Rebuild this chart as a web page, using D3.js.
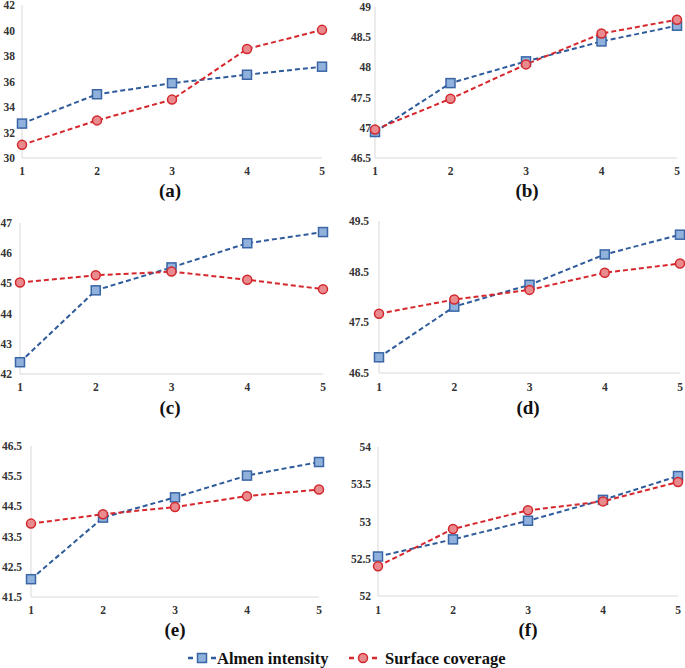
<!DOCTYPE html>
<html>
<head>
<meta charset="utf-8">
<script src="https://cdn.jsdelivr.net/npm/d3@7/dist/d3.min.js"></script>
<style>
  html, body { margin: 0; padding: 0; background: #fff; }
  svg { display: block; }
</style>
</head>
<body>
<svg id="chart" width="685" height="668"></svg>
<script>
// ---- data ----
const xCategories = [1, 2, 3, 4, 5];
const panelLabels = ["(a)", "(b)", "(c)", "(d)", "(e)", "(f)"];
const seriesNames = ["Almen intensity", "Surface coverage"];

const almenA = [32.7, 35.0, 35.87, 36.53, 37.16];
const coverA = [31.03, 32.95, 34.58, 38.55, 40.05];
const ticksA = [30, 32, 34, 36, 38, 40, 42];

const almenB = [46.93, 47.74, 48.1, 48.43, 48.69];
const coverB = [46.97, 47.48, 48.05, 48.56, 48.79];
const ticksB = [46.5, 47, 47.5, 48, 48.5, 49];

const almenC = [42.39, 44.77, 45.53, 46.33, 46.7];
const coverC = [45.03, 45.27, 45.39, 45.12, 44.81];
const ticksC = [42, 43, 44, 45, 46, 47];

const almenD = [46.81, 47.81, 48.24, 48.84, 49.23];
const coverD = [47.67, 47.95, 48.14, 48.48, 48.66];
const ticksD = [46.5, 47.5, 48.5, 49.5];

const almenE = [42.09, 44.13, 44.8, 45.52, 45.97];
const coverE = [43.93, 44.24, 44.48, 44.84, 45.06];
const ticksE = [41.5, 42.5, 43.5, 44.5, 45.5, 46.5];

const almenF = [52.53, 52.76, 53.01, 53.29, 53.61];
const coverF = [52.4, 52.9, 53.15, 53.27, 53.53];
const ticksF = [52, 52.5, 53, 53.5, 54];

// ---- layout (positions only) ----
const panels = [
  { almen: almenA, cover: coverA, ticks: ticksA, x0: 22,  x1: 322, yT: 5,   yB: 158, gap: 7,  xlab: 171, lx: 170, ly: 197 },
  { almen: almenB, cover: coverB, ticks: ticksB, x0: 375, x1: 677, yT: 7,   yB: 158, gap: 4,  xlab: 171, lx: 527, ly: 197 },
  { almen: almenC, cover: coverC, ticks: ticksC, x0: 20,  x1: 323, yT: 223, yB: 374, gap: 8,  xlab: 387, lx: 170, ly: 414 },
  { almen: almenD, cover: coverD, ticks: ticksD, x0: 379, x1: 680, yT: 221, yB: 373, gap: 10, xlab: 387, lx: 528, ly: 414 },
  { almen: almenE, cover: coverE, ticks: ticksE, x0: 31,  x1: 319, yT: 446, yB: 597, gap: 9,  xlab: 610, lx: 175, ly: 636 },
  { almen: almenF, cover: coverF, ticks: ticksF, x0: 378, x1: 678, yT: 447, yB: 596, gap: 7,  xlab: 610, lx: 528, ly: 636 }
];

const blueLine = "#2f5b9b", blueFill = "#8fb1dc", blueStroke = "#3a66a6";
const redLine = "#d6272d", redFill = "#e98a8f", redStroke = "#d2282d";
const serif = "Liberation Serif, Tinos, Times New Roman, Noto Serif, DejaVu Serif, serif";

const svg = d3.select("#chart");

panels.forEach((p, i) => {
  const x = d3.scaleLinear().domain([1, 5]).range([p.x0, p.x1]);
  const y = d3.scaleLinear().domain([p.ticks[0], p.ticks[p.ticks.length - 1]]).range([p.yB, p.yT]);
  const g = svg.append("g");

  g.append("line").attr("x1", p.x0).attr("x2", p.x0).attr("y1", p.yT).attr("y2", p.yB)
    .attr("stroke", "#d9d9d9").attr("stroke-width", 1);
  g.append("line").attr("x1", p.x0).attr("x2", p.x1).attr("y1", p.yB).attr("y2", p.yB)
    .attr("stroke", "#d9d9d9").attr("stroke-width", 1);

  g.selectAll(".yt").data(p.ticks).enter().append("text")
    .attr("x", p.x0 - p.gap).attr("y", d => y(d)).attr("dy", "0.35em")
    .attr("text-anchor", "end").style("font-family", serif).style("font-size", "11.5px")
    .style("font-weight", "bold").attr("fill", "#333").text(d => d);

  g.selectAll(".xt").data(xCategories).enter().append("text")
    .attr("x", d => x(d)).attr("y", p.xlab).attr("dy", "0.35em")
    .attr("text-anchor", "middle").style("font-family", serif).style("font-size", "11.5px")
    .style("font-weight", "bold").attr("fill", "#333").text(d => d);

  const line = d3.line().x((d, j) => x(xCategories[j])).y(d => y(d));

  g.append("path").datum(p.almen).attr("d", line).attr("fill", "none")
    .attr("stroke", blueLine).attr("stroke-width", 2).attr("stroke-dasharray", "5,3");
  g.append("path").datum(p.cover).attr("d", line).attr("fill", "none")
    .attr("stroke", redLine).attr("stroke-width", 2).attr("stroke-dasharray", "5,3");

  g.selectAll(".sq").data(p.almen).enter().append("rect")
    .attr("x", (d, j) => x(xCategories[j]) - 4.5).attr("y", d => y(d) - 4.5)
    .attr("width", 9).attr("height", 9)
    .attr("fill", blueFill).attr("stroke", blueStroke).attr("stroke-width", 1.5);

  g.selectAll(".ci").data(p.cover).enter().append("circle")
    .attr("cx", (d, j) => x(xCategories[j])).attr("cy", d => y(d)).attr("r", 4.5)
    .attr("fill", redFill).attr("stroke", redStroke).attr("stroke-width", 1.5);

  g.append("text").attr("x", p.lx).attr("y", p.ly).attr("text-anchor", "middle")
    .style("font-family", serif).style("font-size", "19px").style("font-weight", "bold")
    .attr("fill", "#111").text(panelLabels[i]);
});

// legend
const leg = svg.append("g");
const legY = 658;
const legItems = [
  { name: seriesNames[0], cx: 202, tx: 217, line: blueLine, fill: blueFill, stroke: blueStroke, shape: "rect" },
  { name: seriesNames[1], cx: 363, tx: 385, line: redLine, fill: redFill, stroke: redStroke, shape: "circle" }
];
legItems.forEach(it => {
  leg.append("line").attr("x1", it.cx - 14).attr("x2", it.cx + 14).attr("y1", legY).attr("y2", legY)
    .attr("stroke", it.line).attr("stroke-width", 2.5).attr("stroke-dasharray", "5,18");
  if (it.shape === "rect") {
    leg.append("rect").attr("x", it.cx - 4.5).attr("y", legY - 4.5).attr("width", 9).attr("height", 9)
      .attr("fill", it.fill).attr("stroke", it.stroke).attr("stroke-width", 1.5);
  } else {
    leg.append("circle").attr("cx", it.cx).attr("cy", legY).attr("r", 4.5)
      .attr("fill", it.fill).attr("stroke", it.stroke).attr("stroke-width", 1.5);
  }
  leg.append("text").attr("x", it.tx).attr("y", legY).attr("dy", "0.35em")
    .style("font-family", serif).style("font-size", "16.5px").style("font-weight", "bold")
    .attr("fill", "#111").text(it.name);
});
</script>
</body>
</html>
